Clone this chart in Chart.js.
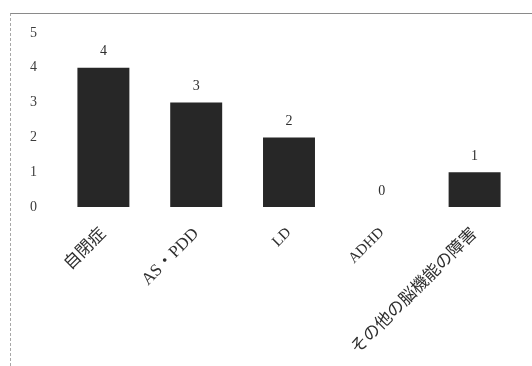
<!DOCTYPE html>
<html>
<head>
<meta charset="utf-8">
<script src="https://cdn.jsdelivr.net/npm/chart.js@4/dist/chart.umd.min.js"></script>
<style>
  html, body { margin: 0; padding: 0; background: #fff; }
  #wrap { position: relative; width: 532px; height: 366px; }
  #frame { position: absolute; left: 10px; top: 13px; right: 0; bottom: 0;
           border-top: 1px solid #8a8a8a; border-left: 1px dashed #a8a8a8; }
  canvas { position: absolute; left: 0; top: 0; }
</style>
</head>
<body>
<div id="wrap">
  <div id="frame"></div>
  <canvas id="c" width="532" height="366"></canvas>
</div>
<script>
// 障害種別ごとの人数
const categories = ['自閉症', 'AS・PDD', 'LD', 'ADHD', 'その他の脳機能の障害'];
const counts = [4, 3, 2, 0, 1];
const yTicks = [0, 1, 2, 3, 4, 5];

const SERIF = '"Liberation Serif", "DejaVu Serif", "Noto Sans CJK JP", serif';
const hasCJK = s => /[\u3000-\u9fff]/.test(s);

// 棒の上に値を表示する
const valueLabels = {
  id: 'valueLabels',
  afterDatasetsDraw(chart) {
    const { ctx } = chart;
    const meta = chart.getDatasetMeta(0);
    ctx.save();
    ctx.fillStyle = '#2e2e2e';
    ctx.font = '14px ' + SERIF;
    ctx.textAlign = 'center';
    ctx.textBaseline = 'bottom';
    meta.data.forEach((bar, i) => {
      ctx.fillText(String(counts[i]), bar.x, bar.y - 9);
    });
    ctx.restore();
  }
};

new Chart(document.getElementById('c'), {
  type: 'bar',
  data: {
    labels: categories,
    datasets: [{
      data: counts,
      backgroundColor: '#272727',
      borderWidth: 0,
      categoryPercentage: 1.0,
      barPercentage: 0.56
    }]
  },
  options: {
    responsive: false,
    animation: false,
    layout: { padding: { left: 10, right: 11, top: 33, bottom: 9 } },
    plugins: { legend: { display: false }, tooltip: { enabled: false } },
    scales: {
      x: {
        grid: { display: false, drawTicks: false },
        border: { display: false },
        ticks: {
          minRotation: 45,
          maxRotation: 45,
          autoSkip: false,
          padding: 17,
          color: '#2e2e2e',
          font: (ctx) => {
            const lbl = categories[ctx.index] || '';
            return hasCJK(lbl) ? { family: SERIF, size: 17 } : { family: SERIF, size: 15 };
          }
        },
        afterFit(scale) { scale.height = 150; }
      },
      y: {
        min: 0,
        max: 5,
        grid: { display: false, drawTicks: false },
        border: { display: false },
        afterBuildTicks(scale) { scale.ticks = yTicks.map(v => ({ value: v })); },
        ticks: {
          padding: 20,
          color: '#3c3c3c',
          font: { family: SERIF, size: 14 }
        },
        afterFit(scale) { scale.width = 47; }
      }
    }
  },
  plugins: [valueLabels]
});
</script>
</body>
</html>
